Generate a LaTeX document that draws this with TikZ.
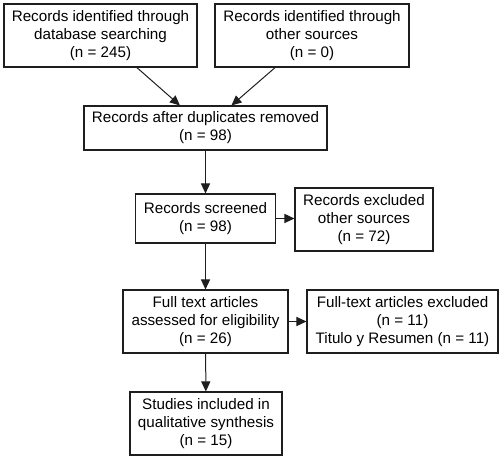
\documentclass[tikz,border=0pt]{standalone}
\usepackage{fontspec}
\setmainfont{Liberation Sans}
\usetikzlibrary{arrows.meta,positioning}
\definecolor{ink}{RGB}{30,30,30}
\tikzset{
  >={Triangle[length=7.5pt,width=6.8pt]},
  box/.style={draw=ink,line width=0.8pt,fill=white,align=center,inner sep=0pt,
    font=\fontsize{11.4}{13.6}\selectfont,minimum width=#1},
  box/.default=120pt,
  flow/.style={->,draw=ink,line width=0.75pt},
}

\begin{document}
\begin{tikzpicture}[x=0.75pt,y=-0.75pt]
    \useasboundingbox (0,0) rectangle (502,459);
    % identification
    \node[box=144.75pt,minimum height=47.25pt] (db) at (100.5,35.5) {Records identified through\\database searching\\(n = 245)};
    \node[box=145.5pt,minimum height=47.25pt] (os) at (312,35.5) {Records identified through\\other sources\\(n = 0)};
    \node[box=182.25pt,minimum height=33pt] (dup) at (205.5,128) {Records after duplicates removed\\(n = 98)};
    % screening
    \node[box=105pt,minimum height=36.75pt] (scr) at (205.5,218.5) {Records screened\\(n = 98)};
    \node[box=103.5pt,minimum height=47.25pt] (exc) at (364,219.5) {Records excluded\\other sources\\(n = 72)};
    % eligibility
    \node[box=123.75pt,minimum height=47.25pt] (full) at (205.5,321.5) {Full text articles\\assessed for eligibility\\(n = 26)};
    \node[box=143.25pt,minimum height=47.25pt] (ftx) at (402.5,321.5) {Full-text articles excluded\\(n = 11)\\Titulo y Resumen (n = 11)};
    % included
    \node[box=114pt,minimum height=47.25pt] (inc) at (206,423.5) {Studies included in\\qualitative synthesis\\(n = 15)};

    \draw[flow] (db) -- (dup);
    \draw[flow] (os) -- (dup);
    \draw[flow] (dup) -- (scr);
    \draw[flow] (scr) -- (scr -| exc.west);
    \draw[flow] (scr) -- (full);
    \draw[flow] (full) -- (ftx);
    \draw[flow] (full) -- (inc);
\end{tikzpicture}
\end{document}
